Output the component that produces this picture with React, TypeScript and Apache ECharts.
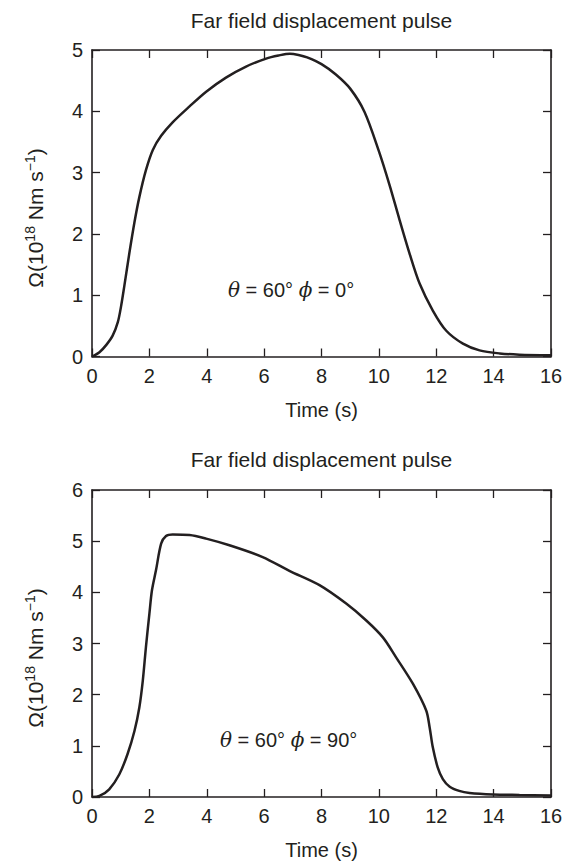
import React, { useEffect, useRef } from "react";
import * as echarts from "echarts";

const chartTitle = "Far field displacement pulse";
const xAxisName = "Time (s)";

const topTime = [0, 0.26, 0.5, 0.72, 0.9, 1.01, 1.13, 1.3, 1.48, 1.65, 1.88, 2.12, 2.41, 2.81, 3.4, 3.98, 4.67, 5.37, 6.07, 6.5, 6.9, 7.2, 7.5, 8.0, 8.5, 9.0, 9.5, 10.0, 10.37, 10.72, 11.07, 11.42, 11.88, 12.35, 12.93, 13.51, 14.21, 14.9, 16];
const topOmega = [0, 0.07, 0.19, 0.34, 0.56, 0.81, 1.16, 1.68, 2.19, 2.6, 3.04, 3.37, 3.6, 3.82, 4.08, 4.32, 4.55, 4.73, 4.86, 4.91, 4.94, 4.92, 4.88, 4.77, 4.6, 4.37, 3.99, 3.35, 2.8, 2.23, 1.68, 1.19, 0.75, 0.42, 0.21, 0.1, 0.05, 0.03, 0.02];

const bottomTime = [0, 0.26, 0.6, 0.95, 1.24, 1.48, 1.65, 1.77, 1.88, 2.0, 2.09, 2.23, 2.41, 2.58, 2.81, 3.4, 3.98, 4.79, 5.95, 6.88, 7.93, 8.86, 9.56, 10.14, 10.6, 11.19, 11.65, 11.77, 11.88, 12.05, 12.23, 12.47, 12.8, 13.16, 13.98, 14.9, 16];
const bottomOmega = [0, 0.02, 0.15, 0.44, 0.84, 1.29, 1.75, 2.27, 2.93, 3.58, 4.04, 4.43, 4.95, 5.1, 5.13, 5.12, 5.05, 4.92, 4.69, 4.42, 4.14, 3.78, 3.45, 3.12, 2.73, 2.21, 1.69, 1.36, 0.97, 0.58, 0.35, 0.2, 0.12, 0.08, 0.05, 0.04, 0.03];

const topYMax = 5;
const bottomYMax = 6;
const xMax = 16;
const xStep = 2;
const yStep = 1;

const annotTop = { theta: "60°", phi: "0°" };
const annotBottom = { theta: "60°", phi: "90°" };

const INK = "#231f20";
const FONT = "Liberation Sans, Arial, Helvetica, sans-serif";

export default function App() {
  const ref = useRef<HTMLDivElement>(null);
  useEffect(() => {
    if (!ref.current) return;
    const chart = echarts.init(ref.current, undefined, { renderer: "svg" });

    const L = 92, R = 18;
    const grids = [
      { left: L, right: R, top: 50, height: 306.5 },
      { left: L, right: R, top: 490, height: 307 },
    ];

    const mkX = (g: number, pos: "bottom" | "top") => ({
      type: "value",
      gridIndex: g,
      position: pos,
      min: 0,
      max: xMax,
      interval: xStep,
      name: pos === "bottom" ? xAxisName : "",
      nameLocation: "middle",
      nameGap: 43,
      nameTextStyle: { color: INK, fontSize: 20, fontFamily: FONT, verticalAlign: "top" },
      axisLine: { show: true, onZero: false, lineStyle: { color: INK, width: 1.6 } },
      axisTick: { show: true, inside: true, length: 8, lineStyle: { color: INK, width: 1.3 } },
      axisLabel: { show: pos === "bottom", color: INK, fontSize: 20, fontFamily: FONT, margin: 9 },
      splitLine: { show: false },
    });
    const mkY = (g: number, pos: "left" | "right", max: number) => ({
      type: "value",
      gridIndex: g,
      position: pos,
      min: 0,
      max,
      interval: yStep,
      axisLine: { show: true, onZero: false, lineStyle: { color: INK, width: 1.6 } },
      axisTick: { show: true, inside: true, length: 8, lineStyle: { color: INK, width: 1.3 } },
      axisLabel: { show: pos === "left", color: INK, fontSize: 20, fontFamily: FONT, margin: 9 },
      splitLine: { show: false },
    });

    const pairs = (xs: number[], ys: number[]) => xs.map((x, i) => [x, ys[i]]);

    const yName = (cx: number, cy: number) => ({
      type: "text",
      x: cx,
      y: cy,
      rotation: Math.PI / 2,
      style: {
        text: "Ω(10{sup|18} Nm s{sup|−1})",
        fill: INK,
        fontSize: 21,
        fontFamily: FONT,
        align: "center",
        verticalAlign: "middle",
        rich: {
          sup: { fontSize: 14, fontFamily: FONT, fill: INK, verticalAlign: "top", lineHeight: 24 },
        },
      },
    });

    const annot = (x: number, y: number, a: { theta: string; phi: string }) => ({
      type: "text",
      x,
      y,
      style: {
        text: `{i|θ} = ${a.theta} {i|ϕ} = ${a.phi}`,
        fill: INK,
        fontSize: 20,
        fontFamily: FONT,
        align: "left",
        verticalAlign: "middle",
        rich: {
          i: { fontStyle: "italic", fontSize: 20, fontFamily: "DejaVu Serif, serif", fill: INK },
        },
      },
    });

    const titleText = (y: number) => ({
      type: "text",
      x: 321.5,
      y,
      style: { text: chartTitle, fill: INK, fontSize: 21, fontFamily: FONT, align: "center", verticalAlign: "middle" },
    });

    chart.setOption({
      animation: false,
      backgroundColor: "#ffffff",
      grid: grids,
      xAxis: [mkX(0, "bottom"), mkX(0, "top"), mkX(1, "bottom"), mkX(1, "top")],
      yAxis: [mkY(0, "left", topYMax), mkY(0, "right", topYMax), mkY(1, "left", bottomYMax), mkY(1, "right", bottomYMax)],
      series: [
        {
          type: "line",
          xAxisIndex: 0,
          yAxisIndex: 0,
          data: pairs(topTime, topOmega),
          showSymbol: false,
          smooth: 0.3,
          lineStyle: { color: INK, width: 2.5 },
        },
        {
          type: "line",
          xAxisIndex: 2,
          yAxisIndex: 2,
          data: pairs(bottomTime, bottomOmega),
          showSymbol: false,
          smooth: 0.3,
          lineStyle: { color: INK, width: 2.5 },
        },
      ],
      graphic: [
        titleText(20),
        titleText(459),
        yName(35, 218),
        yName(35, 658),
        annot(228, 290, annotTop),
        annot(220, 740, annotBottom),
      ],
    });
    return () => chart.dispose();
  }, []);
  return <div ref={ref} style={{ position: "fixed", left: 0, top: 0, width: 569, height: 863 }} />;
}
